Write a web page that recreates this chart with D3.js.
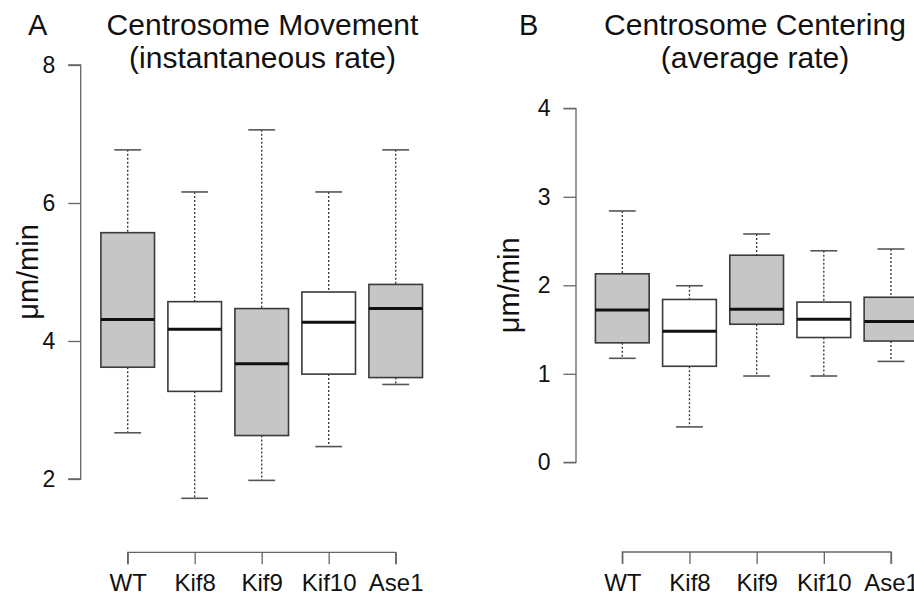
<!DOCTYPE html>
<head>
  <meta charset="utf-8">
  <style>
    body { margin: 0; background: #fff; }
    text { font-family: "Liberation Sans", Arial, Helvetica, sans-serif; fill: #111; }
  </style>
  <script src="https://cdn.jsdelivr.net/npm/d3@7"></script>
</head>
<body>
  <script>

    const categories = ['WT', 'Kif8', 'Kif9', 'Kif10', 'Ase1'];
    const boxFills = ['#c6c6c6', '#ffffff', '#c6c6c6', '#ffffff', '#c6c6c6'];

    // panel A: instantaneous rate (um/min)
    const moveLow    = [2.67, 1.72, 1.98, 2.47, 3.37];
    const moveQ1     = [3.62, 3.27, 2.63, 3.52, 3.47];
    const moveMedian = [4.31, 4.17, 3.67, 4.27, 4.47];
    const moveQ3     = [5.57, 4.57, 4.47, 4.71, 4.82];
    const moveHigh   = [6.77, 6.16, 7.06, 6.16, 6.77];
    const moveTicks  = [2, 4, 6, 8];

    // panel B: average rate (um/min)
    const centLow    = [1.175, 0.40, 0.975, 0.975, 1.14];
    const centQ1     = [1.35, 1.085, 1.56, 1.41, 1.37];
    const centMedian = [1.72, 1.48, 1.73, 1.615, 1.59];
    const centQ3     = [2.13, 1.84, 2.34, 1.81, 1.865];
    const centHigh   = [2.84, 1.995, 2.58, 2.39, 2.41];
    const centTicks  = [0, 1, 2, 3, 4];

    const svg = d3.select('body').append('svg')
        .attr('width', 914)
        .attr('height', 600);

    const drawPanel = (opt) => {
      const rows = categories.map((c, i) => ({
        cat: c, fill: boxFills[i],
        low: opt.low[i], q1: opt.q1[i], med: opt.med[i], q3: opt.q3[i], high: opt.high[i]
      }));

      const x = d3.scalePoint().domain(categories).range(opt.xRange);
      const y = d3.scaleLinear().domain(opt.yDomain).range(opt.yRange);
      const step = x.step();
      const bw = step * 0.8, cw = step * 0.4;

      const g = svg.append('g');

      // y axis
      const yAxis = g.append('g')
          .attr('transform', `translate(${opt.axisX},0)`)
          .call(d3.axisLeft(y).tickValues(opt.ticks).tickSize(12.5).tickPadding(13).tickFormat(d3.format('d')));
      yAxis.select('.domain').attr('d', `M-12.5,${y(opt.yDomain[0])}H0V${y(opt.yDomain[1])}H-12.5`);
      yAxis.selectAll('.domain, line').attr('stroke', '#666').attr('stroke-width', 1.3);
      yAxis.selectAll('text').attr('font-size', 23).attr('fill', '#111')
          .attr('font-family', '"Liberation Sans", Arial, sans-serif');

      // x axis
      const xAxis = g.append('g')
          .attr('transform', `translate(0,${opt.axisY})`)
          .call(d3.axisBottom(x).tickSize(12).tickPadding(10).tickSizeOuter(0));
      xAxis.select('.domain').attr('d', `M${opt.xRange[0]},12V0H${opt.xRange[1]}V12`);
      xAxis.selectAll('.domain, line').attr('stroke', '#666').attr('stroke-width', 1.3);
      xAxis.selectAll('text').attr('font-size', 24).attr('fill', '#111').attr('dy', '0.71em')
          .attr('font-family', '"Liberation Sans", Arial, sans-serif');

      const box = g.selectAll('.box').data(rows).enter().append('g').attr('class', 'box');

      // whiskers
      box.append('line')
        .attr('x1', d => x(d.cat)).attr('x2', d => x(d.cat))
        .attr('y1', d => y(d.high)).attr('y2', d => y(d.q3))
        .attr('stroke', '#333').attr('stroke-width', 1.3).attr('stroke-dasharray', '2,2');
      box.append('line')
        .attr('x1', d => x(d.cat)).attr('x2', d => x(d.cat))
        .attr('y1', d => y(d.q1)).attr('y2', d => y(d.low))
        .attr('stroke', '#333').attr('stroke-width', 1.3).attr('stroke-dasharray', '2,2');
      // staples
      ['high', 'low'].forEach(k => {
        box.append('line')
          .attr('x1', d => x(d.cat) - cw / 2).attr('x2', d => x(d.cat) + cw / 2)
          .attr('y1', d => y(d[k])).attr('y2', d => y(d[k]))
          .attr('stroke', '#555').attr('stroke-width', 1.6);
      });
      // boxes
      box.append('rect')
        .attr('x', d => x(d.cat) - bw / 2)
        .attr('y', d => y(d.q3))
        .attr('width', bw)
        .attr('height', d => y(d.q1) - y(d.q3))
        .attr('fill', d => d.fill)
        .attr('stroke', '#3a3a3a').attr('stroke-width', 1.6);
      // medians
      box.append('line')
        .attr('x1', d => x(d.cat) - bw / 2).attr('x2', d => x(d.cat) + bw / 2)
        .attr('y1', d => y(d.med)).attr('y2', d => y(d.med))
        .attr('stroke', '#111').attr('stroke-width', 3);

      // y label
      g.append('text')
        .attr('transform', `translate(${opt.labelX},${(opt.yRange[0] + opt.yRange[1]) / 2}) rotate(-90)`)
        .attr('text-anchor', 'middle')
        .attr('font-size', 29)
        .text('\u03bcm/min');

      // panel letter + title
      g.append('text').attr('x', opt.letterX).attr('y', 35).attr('font-size', 29).text(opt.letter);
      opt.title.forEach((t, i) => {
        g.append('text')
          .attr('x', opt.titleX).attr('y', 35 + i * 33)
          .attr('text-anchor', 'middle')
          .attr('font-size', 30)
          .text(t);
      });
    };

    drawPanel({
      low: moveLow, q1: moveQ1, med: moveMedian, q3: moveQ3, high: moveHigh, ticks: moveTicks,
      xRange: [127.7, 395.7], yDomain: [2, 8], yRange: [479, 65],
      axisX: 80.7, axisY: 552.3, labelX: 38,
      letter: 'A', letterX: 28, titleX: 262.5,
      title: ['Centrosome Movement', '(instantaneous rate)']
    });

    drawPanel({
      low: centLow, q1: centQ1, med: centMedian, q3: centQ3, high: centHigh, ticks: centTicks,
      xRange: [622.3, 891], yDomain: [0, 4], yRange: [462.3, 108.3],
      axisX: 576, axisY: 552, labelX: 519,
      letter: 'B', letterX: 519, titleX: 755,
      title: ['Centrosome Centering', '(average rate)']
    });

  </script>
</body>
